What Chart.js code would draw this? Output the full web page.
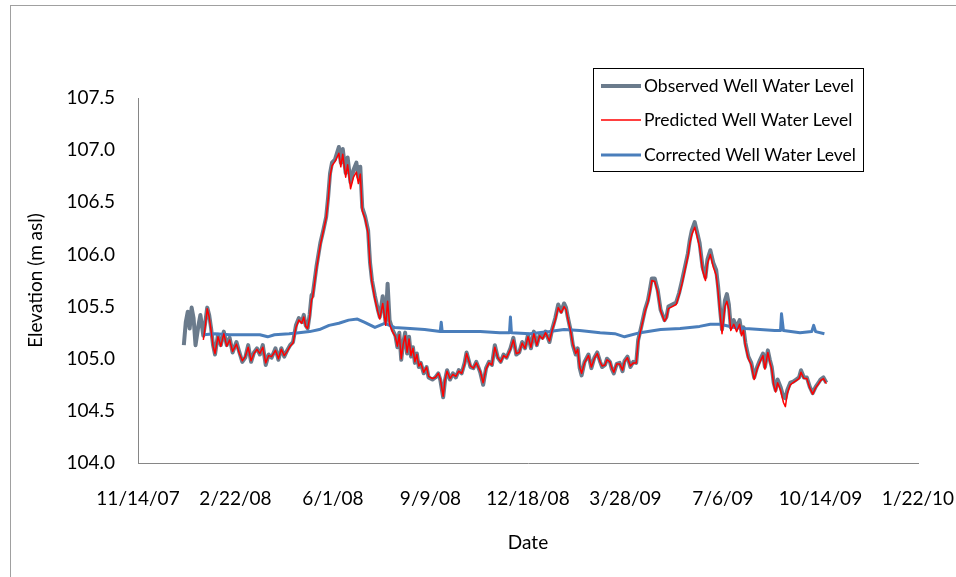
<!DOCTYPE html>
<html>
<head>
<meta charset="utf-8">
<script src="https://cdn.jsdelivr.net/npm/chart.js@4.4.0/dist/chart.umd.min.js"></script>
<style>
  html, body { margin: 0; padding: 0; background: #fff; }
  #wrap { position: relative; width: 956px; height: 577px; overflow: hidden; }
  #frame { position: absolute; left: 10px; top: 5px; width: 1000px; height: 600px;
           border-left: 1px solid #a0a0a0; border-top: 1px solid #a0a0a0; }
  canvas { position: absolute; left: 0; top: 0; }
</style>
</head>
<body>
<div id="wrap">
  <div id="frame"></div>
  <canvas id="chart" width="956" height="577"></canvas>
</div>
<script>
// x values are days since 11/14/07
const dateLabels = ["11/14/07", "2/22/08", "6/1/08", "9/9/08", "12/18/08", "3/28/09", "7/6/09", "10/14/09", "1/22/10"];

const wellDays = [
  47, 49, 51, 53, 55, 57, 59, 62, 64, 66,
  67, 69, 71, 73, 75, 77, 79, 82, 85, 88,
  91, 94, 97, 101, 104, 107, 110, 113, 116, 119,
  122, 125, 128, 131, 134, 137, 141, 144, 147, 150,
  153, 156, 159, 162, 165, 168, 170, 172, 174, 176,
  178, 179, 183, 187, 190, 193, 195, 197, 199, 202,
  204, 206, 208, 210, 213, 215, 218, 221, 224, 226,
  228, 230, 233, 236, 238, 240, 243, 246, 248, 251,
  254, 256, 258, 261, 264, 266, 268, 270, 272, 274,
  276, 278, 280, 282, 284, 286, 288, 290, 293, 296,
  298, 302, 305, 308, 310, 313, 315, 317, 320, 323,
  326, 329, 332, 335, 337, 341, 344, 347, 351, 354,
  357, 360, 363, 366, 369, 372, 375, 378, 382, 385,
  388, 391, 394, 397, 400, 403, 406, 409, 412, 415,
  418, 422, 425, 428, 431, 434, 437, 439, 441, 444,
  446, 449, 451, 453, 455, 458, 462, 465, 468, 471,
  474, 476, 479, 481, 484, 486, 488, 491, 494, 497,
  499, 502, 505, 508, 511, 513, 516, 520, 523, 525,
  527, 530, 533, 536, 540, 542, 544, 548, 552, 555,
  558, 561, 564, 566, 568, 571, 573, 576, 579, 582,
  584, 587, 590, 593, 595, 597, 599, 602, 604, 606,
  608, 611, 614, 617, 619, 621, 623, 626, 629, 632,
  635, 638, 641, 643, 646, 648, 650, 652, 654, 656,
  659, 662, 664, 666, 669, 672, 675, 678, 680, 683,
  686, 689, 692, 695, 698, 700, 703, 706
];

const observedLevel = [
  105.13, 105.35, 105.45, 105.29, 105.49, 105.39, 105.13, 105.32, 105.42, 105.29,
  105.22, 105.35, 105.49, 105.42, 105.29, 105.13, 105.04, 105.23, 105.13, 105.26,
  105.13, 105.20, 105.06, 105.16, 105.06, 104.97, 105.01, 105.13, 104.97, 105.06,
  105.10, 105.04, 105.13, 104.94, 105.04, 105.01, 105.10, 104.99, 105.10, 105.02,
  105.08, 105.13, 105.16, 105.32, 105.39, 105.35, 105.42, 105.32, 105.29, 105.42,
  105.61, 105.60, 105.88, 106.11, 106.23, 106.36, 106.55, 106.78, 106.88, 106.91,
  106.97, 107.03, 106.88, 107.01, 106.78, 106.93, 106.69, 106.81, 106.88, 106.74,
  106.84, 106.45, 106.36, 106.23, 105.92, 105.75, 105.60, 105.47, 105.40, 105.60,
  105.34, 105.72, 105.37, 105.28, 105.22, 105.11, 105.25, 104.99, 105.15, 105.25,
  105.05, 105.21, 105.02, 105.11, 104.96, 105.05, 104.92, 104.96, 104.86, 104.92,
  104.82, 104.80, 104.82, 104.86, 104.80, 104.63, 104.80, 104.89, 104.80, 104.86,
  104.82, 104.89, 104.86, 104.96, 105.06, 104.92, 104.91, 104.97, 104.87, 104.75,
  104.91, 104.97, 104.94, 105.13, 105.01, 104.97, 105.04, 105.01, 105.10, 105.20,
  105.04, 105.06, 105.16, 105.10, 105.23, 105.10, 105.26, 105.13, 105.23, 105.20,
  105.26, 105.16, 105.29, 105.39, 105.52, 105.45, 105.53, 105.49, 105.39, 105.26,
  105.13, 105.04, 105.10, 104.91, 104.84, 104.97, 105.04, 104.91, 105.01, 105.06,
  104.97, 104.92, 104.94, 105.00, 104.97, 104.90, 104.86, 104.95, 104.96, 104.88,
  104.98, 105.02, 104.92, 104.97, 104.96, 105.18, 105.30, 105.47, 105.56, 105.66,
  105.77, 105.77, 105.66, 105.47, 105.37, 105.40, 105.50, 105.52, 105.54, 105.63,
  105.75, 105.88, 106.01, 106.14, 106.23, 106.31, 106.23, 106.11, 105.88, 105.78,
  105.95, 106.04, 105.92, 105.85, 105.69, 105.47, 105.28, 105.56, 105.62, 105.52,
  105.30, 105.37, 105.30, 105.37, 105.25, 105.30, 105.15, 105.02, 104.96, 104.82,
  104.92, 104.99, 105.05, 104.92, 105.08, 104.99, 104.92, 104.77, 104.70, 104.80,
  104.73, 104.63, 104.62, 104.70, 104.77, 104.78, 104.80, 104.82, 104.89, 104.82,
  104.82, 104.73, 104.67, 104.73, 104.77, 104.80, 104.82, 104.77
];

const predictedLevel = [
  null, null, null, null, null, null, null, null, null, null,
  105.18, 105.31, 105.48, 105.40, 105.27, 105.12, 105.05, 105.21, 105.12, 105.24,
  105.12, 105.18, 105.07, 105.14, 105.05, 104.98, 105.02, 105.11, 104.98, 105.05,
  105.09, 105.05, 105.11, 104.96, 105.03, 105.02, 105.08, 105.00, 105.09, 105.03,
  105.07, 105.12, 105.15, 105.30, 105.37, 105.34, 105.40, 105.31, 105.29, 105.39,
  105.57, 105.58, 105.86, 106.09, 106.22, 106.35, 106.52, 106.75, 106.85, 106.89,
  106.93, 106.97, 106.84, 106.96, 106.74, 106.86, 106.63, 106.74, 106.79, 106.68,
  106.77, 106.42, 106.34, 106.20, 105.90, 105.73, 105.57, 105.45, 105.38, 105.53,
  105.32, 105.55, 105.33, 105.26, 105.21, 105.12, 105.23, 105.00, 105.14, 105.22,
  105.06, 105.19, 105.03, 105.10, 104.97, 105.04, 104.93, 104.96, 104.87, 104.92,
  104.83, 104.81, 104.82, 104.86, 104.81, 104.64, 104.80, 104.88, 104.81, 104.85,
  104.83, 104.88, 104.86, 104.95, 105.05, 104.93, 104.91, 104.96, 104.88, 104.77,
  104.90, 104.96, 104.94, 105.11, 105.01, 104.97, 105.03, 105.01, 105.09, 105.18,
  105.05, 105.06, 105.15, 105.10, 105.21, 105.11, 105.24, 105.13, 105.22, 105.19,
  105.25, 105.17, 105.28, 105.37, 105.49, 105.44, 105.50, 105.47, 105.38, 105.25,
  105.14, 105.05, 105.09, 104.92, 104.86, 104.96, 105.03, 104.92, 105.00, 105.05,
  104.97, 104.93, 104.94, 104.99, 104.97, 104.91, 104.87, 104.95, 104.95, 104.89,
  104.97, 105.01, 104.93, 104.96, 104.96, 105.16, 105.29, 105.45, 105.54, 105.63,
  105.75, 105.74, 105.64, 105.46, 105.36, 105.39, 105.48, 105.50, 105.52, 105.61,
  105.72, 105.85, 105.98, 106.11, 106.19, 106.26, 106.19, 106.07, 105.85, 105.75,
  105.91, 106.00, 105.88, 105.80, 105.64, 105.43, 105.24, 105.50, 105.55, 105.47,
  105.27, 105.33, 105.26, 105.33, 105.22, 105.27, 105.12, 105.00, 104.94, 104.80,
  104.90, 104.97, 105.03, 104.90, 105.06, 104.97, 104.90, 104.75, 104.68, 104.77,
  104.70, 104.58, 104.54, 104.67, 104.75, 104.77, 104.79, 104.81, 104.87, 104.81,
  104.81, 104.72, 104.66, 104.72, 104.76, 104.79, 104.81, 104.76
];

const correctedDays = [
  67, 79, 94, 110, 125, 133, 140, 155, 165, 176,
  186, 196, 206, 216, 225, 232, 243, 253, 263, 279,
  294, 310, 311, 312, 330, 351, 371, 381, 382, 383,
  402, 422, 437, 453, 474, 489, 499, 515, 536, 556,
  576, 587, 597, 612, 623, 638, 653, 659, 660, 662,
  679, 691, 693, 695, 704
];

const correctedLevel = [
  105.23, 105.24, 105.23, 105.23, 105.23, 105.21, 105.23, 105.24, 105.25, 105.26,
  105.28, 105.32, 105.34, 105.37, 105.38, 105.35, 105.30, 105.34, 105.30, 105.29,
  105.28, 105.26, 105.35, 105.26, 105.26, 105.26, 105.25, 105.25, 105.40, 105.25,
  105.24, 105.26, 105.28, 105.27, 105.25, 105.24, 105.21, 105.25, 105.28, 105.29,
  105.31, 105.33, 105.33, 105.30, 105.29, 105.28, 105.27, 105.27, 105.43, 105.27,
  105.25, 105.26, 105.32, 105.26, 105.24
];

const seriesNames = ["Observed Well Water Level", "Predicted Well Water Level", "Corrected Well Water Level"];
const seriesColors = ["#6b7b8c", "#ff0000", "#4a7ebb"];
const seriesWidths = [4, 1.5, 3];

const FONT = "Lato, 'Open Sans', sans-serif";

function toPoints(days, vals) {
  return days.map((d, i) => ({ x: d, y: vals[i] }));
}

// Excel-style boxed legend in the upper right
const boxLegend = {
  id: "boxLegend",
  afterDraw(chart) {
    const ctx = chart.ctx;
    const x0 = 593, y0 = 68, w = 270, h = 103;
    ctx.save();
    ctx.fillStyle = "#fff";
    ctx.fillRect(x0, y0, w, h);
    ctx.strokeStyle = "#000";
    ctx.lineWidth = 1;
    ctx.strokeRect(x0 + 0.5, y0 + 0.5, w, h);
    ctx.font = "17.5px " + FONT;
    ctx.textBaseline = "middle";
    ctx.fillStyle = "#000";
    const rows = [86, 120, 155];
    seriesNames.forEach((name, i) => {
      ctx.beginPath();
      ctx.strokeStyle = seriesColors[i];
      ctx.lineWidth = seriesWidths[i];
      ctx.moveTo(601, rows[i]);
      ctx.lineTo(641, rows[i]);
      ctx.stroke();
      ctx.fillText(name, 644, rows[i]);
    });
    ctx.restore();
  }
};

new Chart(document.getElementById("chart").getContext("2d"), {
  type: "line",
  data: {
    datasets: [
      {
        label: seriesNames[1],
        data: toPoints(wellDays, predictedLevel),
        borderColor: seriesColors[1],
        borderWidth: seriesWidths[1],
        order: 1
      },
      {
        label: seriesNames[2],
        data: toPoints(correctedDays, correctedLevel),
        borderColor: seriesColors[2],
        borderWidth: seriesWidths[2],
        order: 2
      },
      {
        label: seriesNames[0],
        data: toPoints(wellDays, observedLevel),
        borderColor: seriesColors[0],
        borderWidth: seriesWidths[0],
        order: 3
      }
    ]
  },
  options: {
    responsive: false,
    animation: false,
    elements: { point: { radius: 0 }, line: { tension: 0, borderJoinStyle: "round" } },
    layout: { padding: { left: 24, top: 98, right: 38, bottom: 23 } },
    plugins: { legend: { display: false }, tooltip: { enabled: false } },
    scales: {
      x: {
        type: "linear",
        min: 0,
        max: 800,
        grid: { display: false, drawTicks: false },
        border: { display: true, color: "#868686", width: 1 },
        ticks: {
          stepSize: 100,
          autoSkip: false,
          maxRotation: 0,
          padding: 24,
          color: "#000",
          font: { family: FONT, size: 19 },
          callback: (v) => dateLabels[Math.round(v / 100)]
        },
        title: { display: true, text: "Date", color: "#000", padding: 0, font: { family: FONT, size: 19 } },
        afterFit(scale) {
          scale.height = 91;
          scale.paddingLeft = 0;
          scale.paddingRight = 0;
        }
      },
      y: {
        min: 104,
        max: 107.5,
        grid: { display: false, drawTicks: false },
        border: { display: true, color: "#868686", width: 1 },
        ticks: {
          stepSize: 0.5,
          padding: 23,
          color: "#000",
          font: { family: FONT, size: 19 },
          callback: (v) => v.toFixed(1)
        },
        title: { display: true, text: "Elevation (m asl)", color: "#000", padding: 0, font: { family: FONT, size: 19 } },
        afterFit(scale) {
          scale.width = 114;
          scale.paddingTop = 0;
          scale.paddingBottom = 0;
        }
      }
    }
  },
  plugins: [boxLegend]
});
</script>
</body>
</html>
